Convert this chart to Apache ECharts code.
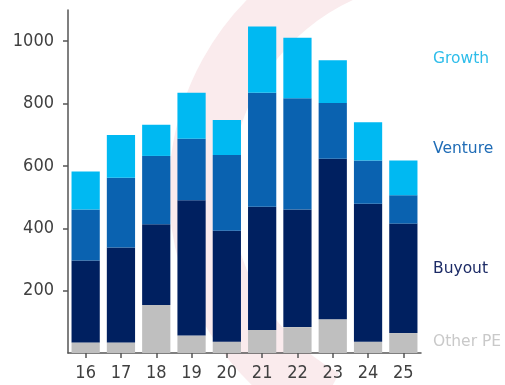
<!DOCTYPE html>
<html>
<head>
<meta charset="utf-8">
<script src="https://cdn.jsdelivr.net/npm/echarts@6/dist/echarts.min.js"></script>
<style>
  html, body { margin: 0; padding: 0; background: #ffffff; }
  #chart { width: 505px; height: 385px; }
</style>
</head>
<body>
<div id="chart"></div>
<script>
// Years (20xx) along the x axis
const years = ['16', '17', '18', '19', '20', '21', '22', '23', '24', '25'];

// Stacked segment values, bottom to top
const otherPE = [34, 34, 154, 56, 36, 74, 83, 108, 36, 64];
const buyout  = [263, 304, 259, 434, 356, 395, 377, 515, 443, 351];
const venture = [163, 224, 219, 197, 243, 366, 357, 179, 138, 91];
const growth  = [122, 137, 100, 148, 112, 212, 194, 137, 123, 111];

const colors = {
  'Other PE': '#bfbfbf',
  'Buyout': '#002060',
  'Venture': '#0a62b0',
  'Growth': '#00b9f2'
};
const labelColors = {
  'Other PE': '#c9c9c9',
  'Buyout': '#1c2b66',
  'Venture': '#1f6cb6',
  'Growth': '#2ebdea'
};

const font = '"DejaVu Sans Condensed", "DejaVu Sans", sans-serif';
const sideFont = '"DejaVu Sans", sans-serif';
const chart = echarts.init(document.getElementById('chart'), null, { renderer: 'canvas' });

function bar(name, data) {
  return {
    name: name,
    type: 'bar',
    stack: 'pe',
    barWidth: '80%',
    data: data,
    itemStyle: { color: colors[name] },
    z: 3
  };
}

// Right-hand segment labels
const sideLabels = [
  { name: 'Growth', y: 58 },
  { name: 'Venture', y: 148 },
  { name: 'Buyout', y: 268 },
  { name: 'Other PE', y: 341 }
].map(function (d) {
  return {
    type: 'text',
    left: 433,
    top: d.y - 7,
    z: 10,
    style: {
      text: d.name,
      fill: labelColors[d.name],
      font: '15.5px ' + sideFont
    }
  };
});

const axisGrey = '#555555';

chart.setOption({
  backgroundColor: '#ffffff',
  animation: false,
  grid: { left: 68, right: 84, top: 10, bottom: 32 },
  xAxis: {
    type: 'category',
    data: years,
    axisLine: { show: true, lineStyle: { color: axisGrey, width: 1.5 } },
    axisTick: { show: true, interval: 0, alignWithLabel: true, length: 5, lineStyle: { color: axisGrey, width: 1.5 } },
    axisLabel: { color: '#404040', fontSize: 18, fontFamily: font, margin: 11 }
  },
  yAxis: {
    type: 'value',
    min: 0,
    max: 1100,
    interval: 200,
    axisLine: { show: true, lineStyle: { color: axisGrey, width: 1.5 } },
    axisTick: { show: true, length: 5, lineStyle: { color: axisGrey, width: 1.5 } },
    axisLabel: {
      color: '#404040', fontSize: 18, fontFamily: font, margin: 14,
      showMinLabel: false, showMaxLabel: false,
      formatter: function (v) { return String(v); }
    },
    splitLine: { show: false }
  },
  graphic: [
    // faint brush-stroke watermark behind the bars
    {
      type: 'arc',
      z: 0,
      silent: true,
      shape: { cx: 440, cy: 190, r: 240, startAngle: Math.PI * 0.66, endAngle: Math.PI * 1.40 },
      style: { stroke: '#faebed', lineWidth: 62, fill: null }
    }
  ].concat(sideLabels),
  series: [
    bar('Other PE', otherPE),
    bar('Buyout', buyout),
    bar('Venture', venture),
    bar('Growth', growth)
  ]
});
</script>
</body>
</html>
